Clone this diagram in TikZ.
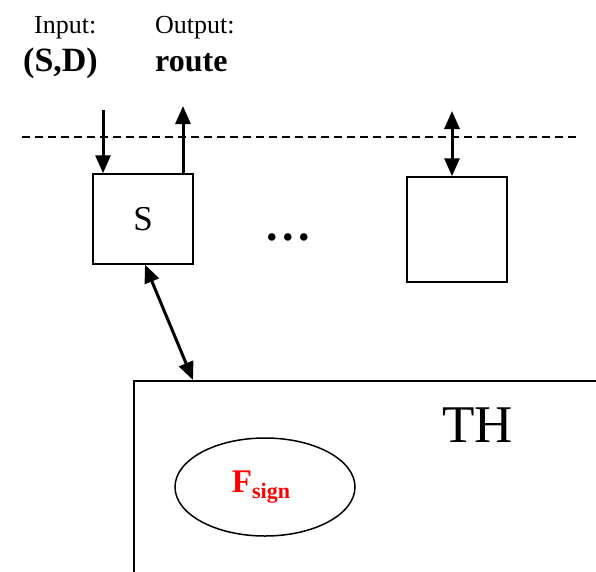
\documentclass[tikz,border=0pt]{standalone}
\usepackage{fontspec}
\setmainfont{Liberation Serif}
\usetikzlibrary{arrows.meta, positioning, calc, shapes.geometric}
\definecolor{cred}{HTML}{FF0000}

\tikzset{
  box/.style={draw, line width=1.5pt, inner sep=0pt},
  link/.style={line width=3pt},
  label/.style={font=\fontsize{26}{30}\selectfont, anchor=base west, inner sep=0pt},
  value/.style={font=\fontsize{32}{36}\selectfont\bfseries, anchor=base west, inner sep=0pt},
}

\begin{document}
\begin{tikzpicture}[x=1pt, y=-1pt, >={Triangle[length=18pt, width=15pt]}]
  \clip (0,0) rectangle (596,571);
  % interface labels
  \node[label] (inlbl) at (34,33) {Input:};
  \node[value, font=\fontsize{34}{36}\selectfont\bfseries] (inval) at (23,71) {(S,D)};
  \node[label] (outlbl) at (155,33) {Output:};
  \node[value] (outval) at (155,71) {route};
  % boundary
  \coordinate (dl) at (22,137);
  \coordinate (dr) at (576,137);
  \draw[line width=2.8pt, dash pattern=on 8pt off 5pt] (dl) -- (dr);
  % servers
  \node[box, minimum width=100pt, minimum height=90pt, font=\fontsize{35}{40}\selectfont] (s) at (143,219) {S};
  \node[box, minimum width=100pt, minimum height=105pt] (r) at (457,229.5) {};
  \node[font=\fontsize{46}{50}\selectfont\bfseries, anchor=base, inner sep=0pt] (dots) at (288,240) {.\hspace{4.5pt}.\hspace{4.5pt}.};
  \coordinate (in) at (103,110);
  \coordinate (out) at (183,106);
  \coordinate (io) at (452,111);
  \draw[link, ->] (in) -- (in |- s.north);
  \draw[link, ->] (out |- s.north) -- (out);
  \draw[link, <->] (io) -- (io |- r.north);
  % trusted hardware
  \node[box, minimum width=600pt, minimum height=300pt, anchor=north west] (th) at (133,380) {};
  \node[font=\fontsize{53}{60}\selectfont, anchor=base west, inner sep=0pt] (thlbl) at (442,442) {TH};
  \node[draw, ellipse, line width=1.5pt, minimum width=180pt, minimum height=98pt, inner sep=0pt, text=cred,
        font=\fontsize{33}{36}\selectfont\bfseries] (fsign) at (265,487)
        {\hspace{-8pt}F\raisebox{-6pt}{\fontsize{22}{24}\selectfont sign}};
  \draw[link, <->] ($(s.south)+(2,0)$) -- ($(th.north west)+(60,0)$);
\end{tikzpicture}
\end{document}
